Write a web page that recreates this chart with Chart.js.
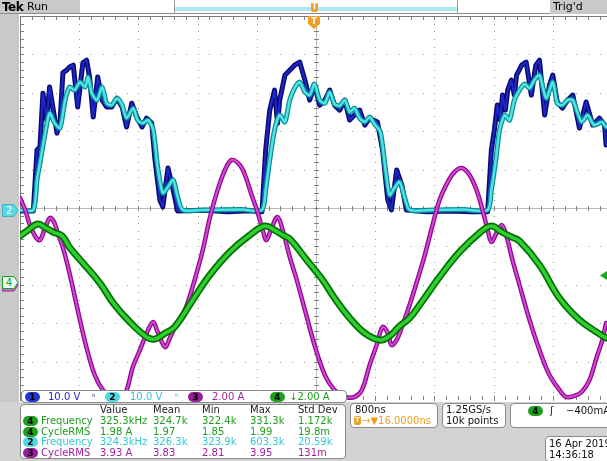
<!DOCTYPE html>
<html><head><meta charset="utf-8">
<script src="https://cdn.jsdelivr.net/npm/chart.js@4.4.1/dist/chart.umd.min.js"></script>
<style>
html,body{margin:0;padding:0;overflow:hidden;background:#fff;width:607px;height:461px;}
#wrap{position:absolute;left:0;top:0;width:607px;height:461px;overflow:hidden;font-family:"DejaVu Sans",sans-serif;}
#c{position:absolute;left:0;top:0;}
.a{position:absolute;white-space:nowrap;}
.t{position:absolute;white-space:nowrap;font-size:10px;line-height:10px;}
.box{position:absolute;background:#fff;border:1px solid #8a8a8a;border-radius:4px;box-sizing:border-box;}
.bd{position:absolute;width:15px;height:10px;border-radius:5px;font-size:9px;font-weight:bold;line-height:10px;text-align:center;color:#000;}
</style></head><body>
<div id="wrap">
<canvas id="c" width="616" height="461"></canvas>

<!-- top bar -->
<div class="a" style="left:0;top:0;width:80px;height:14px;background:#c9c9c9;"></div>
<div class="a" style="left:2px;top:0px;font-size:12px;line-height:14px;font-weight:bold;letter-spacing:-0.5px;">Tek</div>
<div class="a" style="left:27px;top:0px;font-size:11px;line-height:14px;">Run</div>
<div class="a" style="left:0;top:13px;width:607px;height:1px;background:#8c8c8c;"></div>
<div class="a" style="left:174px;top:0;width:1px;height:14px;background:#9a9a9a;"></div>
<div class="a" style="left:457px;top:0;width:1px;height:14px;background:#9a9a9a;"></div>
<div class="a" style="left:175px;top:7px;width:282px;height:4px;background:rgb(172,232,238);"></div>
<div class="a" style="left:550px;top:0;width:57px;height:14px;background:#c9c9c9;"></div>
<div class="a" style="left:553px;top:0px;font-size:11px;line-height:14px;">Trig'd</div>
<div class="a" style="left:311px;top:2px;width:7px;height:10px;background:rgb(240,160,40);border-radius:2px;color:#fff;font-size:8px;line-height:10px;text-align:center;font-weight:bold;">T</div>
<svg class="a" style="left:308px;top:16px;" width="12" height="13"><polygon points="0,0 12,0 12,8 6,13 0,8" fill="rgb(240,160,40)"/><text x="6" y="8" font-size="8" font-weight="bold" fill="#fff" text-anchor="middle" font-family="DejaVu Sans">T</text></svg>

<!-- left strip -->
<div class="a" style="left:0;top:14px;width:19px;height:447px;background:#c9c9c9;"></div>
<svg class="a" style="left:2px;top:279px;" width="17" height="13"><polygon points="0,0 12,0 16,6 12,12 0,12" fill="rgb(200,120,200)" stroke="rgb(150,30,150)"/></svg>
<svg class="a" style="left:2px;top:276px;" width="17" height="13"><polygon points="0.5,0.5 12,0.5 16,6.5 12,12.5 0.5,12.5" fill="rgb(232,250,232)" stroke="rgb(30,160,30)"/><text x="7" y="10" font-size="10" fill="rgb(30,160,30)" text-anchor="middle" font-family="DejaVu Sans">4</text></svg>
<svg class="a" style="left:2px;top:204px;" width="17" height="13"><polygon points="0.5,0.5 12,0.5 16,6.5 12,12.5 0.5,12.5" fill="rgb(90,215,228)" stroke="rgb(60,180,200)"/><text x="7" y="10" font-size="10" fill="#fff" text-anchor="middle" font-family="DejaVu Sans">2</text></svg>
<svg class="a" style="left:600px;top:271px;" width="7" height="9"><polygon points="7,0 7,9 0,4.5" fill="rgb(30,170,30)"/></svg>

<!-- bottom grey -->
<div class="a" style="left:0;top:402px;width:607px;height:59px;background:#d3d3d3;"></div>

<!-- channel bar -->
<div class="box" style="left:21px;top:390px;width:326px;height:13px;"></div>
<div class="bd" style="left:25px;top:392px;background:rgb(35,55,210);">1</div>
<div class="t" style="left:48px;top:392px;color:rgb(40,40,190);">10.0 V</div>
<div class="t" style="left:92px;top:392px;color:rgb(80,80,200);font-size:7px;">ᴺ</div>
<div class="bd" style="left:105px;top:392px;background:rgb(80,215,228);">2</div>
<div class="t" style="left:130px;top:392px;color:rgb(50,200,215);">10.0 V</div>
<div class="t" style="left:175px;top:392px;color:rgb(50,190,210);font-size:7px;">ᴺ</div>
<div class="bd" style="left:188px;top:392px;background:rgb(150,30,150);">3</div>
<div class="t" style="left:212px;top:392px;color:rgb(160,30,160);">2.00 A</div>
<div class="bd" style="left:270px;top:392px;background:rgb(30,160,30);">4</div>
<div class="t" style="left:289px;top:392px;color:rgb(30,160,30);">↓2.00 A</div>

<!-- measurement table -->
<div class="box" style="left:20px;top:404px;width:326px;height:55px;"></div>
<div class="t" style="left:100px;top:405px;color:#222;">Value</div>
<div class="t" style="left:153px;top:405px;color:#222;">Mean</div>
<div class="t" style="left:202px;top:405px;color:#222;">Min</div>
<div class="t" style="left:250px;top:405px;color:#222;">Max</div>
<div class="t" style="left:298px;top:405px;color:#222;">Std Dev</div>

<div class="bd" style="left:23px;top:416px;background:rgb(30,160,30);">4</div>
<div class="t" style="left:41px;top:416px;color:rgb(30,160,30);">Frequency</div>
<div class="t" style="left:100px;top:416px;color:rgb(30,160,30);">325.3kHz</div>
<div class="t" style="left:153px;top:416px;color:rgb(30,160,30);">324.7k</div>
<div class="t" style="left:202px;top:416px;color:rgb(30,160,30);">322.4k</div>
<div class="t" style="left:250px;top:416px;color:rgb(30,160,30);">331.3k</div>
<div class="t" style="left:298px;top:416px;color:rgb(30,160,30);">1.172k</div>

<div class="bd" style="left:23px;top:427px;background:rgb(30,160,30);">4</div>
<div class="t" style="left:41px;top:427px;color:rgb(30,160,30);">CycleRMS</div>
<div class="t" style="left:100px;top:427px;color:rgb(30,160,30);">1.98 A</div>
<div class="t" style="left:153px;top:427px;color:rgb(30,160,30);">1.97</div>
<div class="t" style="left:202px;top:427px;color:rgb(30,160,30);">1.85</div>
<div class="t" style="left:250px;top:427px;color:rgb(30,160,30);">1.99</div>
<div class="t" style="left:298px;top:427px;color:rgb(30,160,30);">19.8m</div>

<div class="bd" style="left:23px;top:437px;background:rgb(80,215,228);">2</div>
<div class="t" style="left:41px;top:437px;color:rgb(50,200,215);">Frequency</div>
<div class="t" style="left:100px;top:437px;color:rgb(50,200,215);">324.3kHz</div>
<div class="t" style="left:153px;top:437px;color:rgb(50,200,215);">326.3k</div>
<div class="t" style="left:202px;top:437px;color:rgb(50,200,215);">323.9k</div>
<div class="t" style="left:250px;top:437px;color:rgb(50,200,215);">603.3k</div>
<div class="t" style="left:298px;top:437px;color:rgb(50,200,215);">20.59k</div>

<div class="bd" style="left:23px;top:448px;background:rgb(150,30,150);">3</div>
<div class="t" style="left:41px;top:448px;color:rgb(160,30,160);">CycleRMS</div>
<div class="t" style="left:100px;top:448px;color:rgb(160,30,160);">3.93 A</div>
<div class="t" style="left:153px;top:448px;color:rgb(160,30,160);">3.83</div>
<div class="t" style="left:202px;top:448px;color:rgb(160,30,160);">2.81</div>
<div class="t" style="left:250px;top:448px;color:rgb(160,30,160);">3.95</div>
<div class="t" style="left:298px;top:448px;color:rgb(160,30,160);">131m</div>

<!-- right boxes -->
<div class="box" style="left:350px;top:403px;width:88px;height:25px;"></div>
<div class="t" style="left:355px;top:405px;color:#111;">800ns</div>
<div class="a" style="left:354px;top:416px;width:7px;height:9px;background:rgb(240,160,40);border-radius:2px;color:#fff;font-size:7px;line-height:9px;text-align:center;font-weight:bold;">T</div>
<div class="t" style="left:362px;top:416px;color:rgb(240,155,30);">→▼16.0000ns</div>

<div class="box" style="left:442px;top:403px;width:64px;height:25px;"></div>
<div class="t" style="left:446px;top:405px;color:#111;">1.25GS/s</div>
<div class="t" style="left:446px;top:416px;color:#111;">10k points</div>

<div class="box" style="left:510px;top:403px;width:104px;height:25px;"></div>
<div class="bd" style="left:528px;top:406px;background:rgb(30,160,30);">4</div>
<div class="t" style="left:550px;top:406px;color:#111;">ʃ</div>
<div class="t" style="left:566px;top:406px;color:#111;">−400mA</div>

<div class="box" style="left:545px;top:436px;width:69px;height:26px;"></div>
<div class="t" style="left:549px;top:439px;color:#111;">16 Apr 2019</div>
<div class="t" style="left:549px;top:450px;color:#111;">14:36:18</div>
</div>

<script>
// ---- Data (time in microseconds) ----
// Channel 1 (10 V/div)
const ch1Time = [-4.00,-3.82,-3.77,-3.73,-3.69,-3.64,-3.60,-3.55,-3.50,-3.46,-3.42,-3.37,-3.33,-3.28,-3.22,-3.15,-3.10,-3.06,-3.01,-2.95,-2.89,-2.83,-2.76,-2.69,-2.62,-2.56,-2.49,-2.42,-2.35,-2.29,-2.22,-2.18,-2.11,-2.07,-2.00,-1.93,-1.87,
  -1.50,-1.20,-0.90,
  -0.73,-0.68,-0.625,-0.56,-0.52,-0.49,-0.42,-0.355,-0.29,-0.22,-0.15,-0.085,-0.02,0.05,0.12,0.185,0.25,0.32,0.39,0.455,0.52,0.59,0.66,0.725,0.83,0.90,0.97,1.02,1.09,1.16,1.22,
  1.50,1.80,2.10,
  2.32,2.37,2.41,2.45,2.49,2.52,2.56,2.59,2.64,2.68,2.71,2.78,2.84,2.91,2.97,3.02,3.09,3.155,3.20,3.26,3.33,3.40,3.47,3.56,3.65,3.74,3.83,3.90,3.92];
const ch1Volts = [-0.8,-0.8,15.1,15.9,29.9,22.9,31.5,25.5,19.5,22.1,35.2,35.9,36.7,37.2,26.3,37.8,38.5,34.1,23.7,34.1,28.1,26.3,26.3,28.6,26.3,21.1,27.3,23.7,21.1,23.4,22.1,13.3,2.1,0.3,10.4,4.7,-0.8,
  -0.6,-1.0,-0.7,
  -1.0,15.1,25.5,30.7,22.0,28.1,34.6,35.9,37.2,38.0,33.3,28.1,32.0,26.8,28.1,30.7,26.8,25.5,28.1,22.9,24.2,25.5,21.6,23.4,22.4,15.1,2.1,-0.5,9.9,6.0,-0.5,
  -1.0,-0.8,-1.0,
  -1.0,15.1,20.3,26.8,22.9,29.4,25.5,30.7,33.3,29.4,34.6,37.2,38.0,29.4,37.2,38.5,24.2,32.0,34.6,27.6,26.0,28.1,29.4,20.8,27.6,21.6,23.4,21.6,16.4];

// Channel 2 (10 V/div)
const ch2Time = [-4.00,-3.82,-3.77,-3.73,-3.66,-3.60,-3.53,-3.46,-3.39,-3.33,-3.26,-3.19,-3.12,-3.08,-3.03,-2.96,-2.89,-2.83,-2.76,-2.69,-2.62,-2.56,-2.47,-2.41,-2.34,-2.27,-2.20,-2.14,-2.07,-2.00,-1.93,-1.87,-1.80,
  -1.50,-1.00,
  -0.73,-0.68,-0.625,-0.56,-0.49,-0.42,-0.355,-0.29,-0.22,-0.15,-0.085,-0.02,0.05,0.12,0.185,0.25,0.32,0.39,0.455,0.52,0.59,0.66,0.725,0.79,0.87,0.94,0.995,1.06,1.13,1.20,1.265,
  1.60,2.00,
  2.32,2.37,2.43,2.48,2.55,2.615,2.68,2.75,2.82,2.885,2.95,3.02,3.11,3.20,3.26,3.33,3.40,3.47,3.53,3.59,3.67,3.76,3.86,3.92];
const ch2Volts = [-0.5,-0.5,7.3,11.7,19.5,24.7,22.1,20.8,28.1,31.5,30.7,32.8,31.5,34.1,29.9,28.1,31.5,27.3,26.8,28.6,26.8,23.4,26.0,22.9,22.1,22.9,20.3,10.7,3.9,5.5,7.3,2.9,-0.5,
  -0.5,-0.4,
  -0.5,4.7,12.5,20.3,24.2,22.4,28.1,31.2,32.8,30.2,29.4,32.3,28.1,27.3,30.2,27.1,26.6,28.1,25.0,26.0,23.4,22.4,23.7,21.9,19.8,9.9,3.4,5.2,6.8,2.6,-0.5,
  -0.5,-0.4,
  -0.5,4.7,12.5,20.3,24.2,22.9,28.1,30.7,32.3,31.2,33.3,34.6,28.6,32.8,27.3,26.8,28.1,28.1,25.0,22.4,24.2,21.6,22.4,21.1];

// Channel 3 (2 A/div)
const ch3Time = [-4.00,-3.93,-3.865,-3.78,-3.73,-3.66,-3.595,-3.54,-3.49,-3.41,-3.325,-3.22,-3.11,-2.99,-2.88,-2.785,-2.68,-2.58,-2.475,-2.38,-2.27,-2.20,-2.14,-2.04,-1.975,-1.91,-1.83,-1.745,-1.64,-1.53,-1.435,-1.33,-1.23,-1.14,-1.03,-0.96,-0.87,-0.79,-0.72,-0.67,-0.60,-0.52,-0.45,-0.355,-0.26,-0.15,-0.02,0.12,0.25,0.39,0.52,0.62,0.725,0.82,0.90,0.97,1.02,1.09,1.17,1.265,1.37,1.47,1.575,1.67,1.78,1.87,1.97,2.075,2.17,2.25,2.32,2.37,2.44,2.51,2.57,2.655,2.75,2.885,3.02,3.155,3.29,3.38,3.49,3.59,3.695,3.79,3.87,3.92];
const ch3Amps = [4.52,3.90,3.11,2.44,2.33,2.96,3.48,3.27,2.70,1.81,0.51,-1.31,-3.14,-4.70,-5.48,-5.79,-5.84,-5.69,-4.28,-3.40,-2.36,-1.94,-2.46,-3.24,-2.77,-2.25,-1.73,-1.05,0.25,1.81,3.48,4.93,5.98,6.50,6.24,5.72,4.68,3.79,2.85,2.33,2.96,3.53,2.85,1.45,0.25,-1.31,-3.14,-4.70,-5.48,-5.84,-5.84,-5.48,-4.18,-3.14,-2.20,-2.51,-3.14,-2.87,-2.09,-1.05,0.25,1.55,3.11,4.42,5.35,5.87,6.08,5.72,4.93,3.90,2.85,2.23,2.70,3.11,2.59,1.29,-0.01,-1.83,-3.40,-4.70,-5.48,-5.84,-5.79,-5.58,-4.96,-3.81,-2.87,-1.99];

// Channel 4 (2 A/div)
const ch4Time = [-4.00,-3.89,-3.76,-3.65,-3.555,-3.43,-3.325,-3.15,-2.92,-2.74,-2.515,-2.285,-2.18,-2.04,-1.91,-1.665,-1.435,-1.165,-0.895,-0.69,-0.56,-0.45,-0.355,-0.125,0.09,0.25,0.455,0.66,0.86,0.995,1.13,1.265,1.40,1.67,1.94,2.21,2.37,2.51,2.64,2.75,3.02,3.29,3.56,3.83,3.92];
const ch4Amps = [2.54,2.85,3.17,2.96,2.75,2.54,1.92,1.14,0.09,-0.95,-1.94,-2.73,-2.83,-2.52,-2.20,-0.79,0.51,1.71,2.59,3.06,2.85,2.59,2.39,1.29,0.25,-0.69,-1.73,-2.52,-2.88,-2.67,-2.15,-1.73,-1.05,0.41,1.71,2.70,3.06,2.75,2.49,2.28,1.03,-0.69,-1.83,-2.56,-2.77];

// Scope settings
const timeDivUs = 0.8, voltsPerDiv = 10, ampsPerDiv = 2;

function pts(t, v){ return t.map((x,i)=>({x:x, y:v[i]})); }

function trace(t, v, axis, color, width, tension, order){
  return {data:pts(t,v), yAxisID:axis, showLine:true, borderColor:color, borderWidth:width,
    tension:tension, pointRadius:0, order:order, borderJoinStyle:'round', borderCapStyle:'round', fill:false};
}

const graticule = {
  id:'graticule',
  beforeDatasetsDraw(chart){
    const ctx = chart.ctx, a = chart.chartArea, sx = chart.scales.x, sy = chart.scales.yV;
    const xs = [], ys = [];
    for(let i=0;i<=50;i++){ xs.push(Math.round(sx.getPixelForValue(-4 + i*timeDivUs/5))); }
    for(let j=0;j<=50;j++){ ys.push(Math.round(sy.getPixelForValue(50 - j*voltsPerDiv/5))); }
    ctx.save();
    ctx.fillStyle = 'rgb(150,150,150)';
    for(let i=5;i<50;i+=5){ if(i===25) continue; for(const y of ys) ctx.fillRect(xs[i], y, 1, 1); }
    for(let j=5;j<50;j+=5){ if(j===25) continue; for(const x of xs) ctx.fillRect(x, ys[j], 1, 1); }
    const cx = xs[25], cy = ys[25];
    ctx.fillStyle = 'rgb(185,185,185)';
    ctx.fillRect(a.left, cy, a.right-a.left, 1);
    ctx.fillRect(cx, a.top, 1, a.bottom-a.top);
    ctx.fillStyle = 'rgb(130,130,130)';
    for(const x of xs){ ctx.fillRect(x, cy-2, 1, 5); ctx.fillRect(x, a.top, 1, 4); ctx.fillRect(x, a.bottom-4, 1, 4); }
    for(const y of ys){ ctx.fillRect(cx-2, y, 5, 1); ctx.fillRect(a.left, y, 4, 1); }
    ctx.fillStyle = 'rgb(120,120,120)';
    ctx.fillRect(a.left, a.top, a.right-a.left, 1);
    ctx.fillRect(a.left, a.top, 1, a.bottom-a.top);
    ctx.restore();
  }
};

new Chart(document.getElementById('c'), {
  type:'scatter',
  data:{datasets:[
    trace(ch4Time, ch4Amps, 'yA', 'rgb(50,205,50)', 3.5, 0.4, 0),
    trace(ch4Time, ch4Amps, 'yA', 'rgb(0,115,0)', 7, 0.4, 1),
    trace(ch3Time, ch3Amps, 'yA', 'rgb(215,70,215)', 2, 0.35, 2),
    trace(ch3Time, ch3Amps, 'yA', 'rgb(140,10,140)', 4.5, 0.35, 3),
    trace(ch2Time, ch2Volts, 'yV', 'rgb(80,228,228)', 2.5, 0.25, 4),
    trace(ch2Time, ch2Volts, 'yV', 'rgb(10,140,150)', 5, 0.25, 5),
    trace(ch1Time, ch1Volts, 'yV', 'rgb(30,40,200)', 2, 0, 6),
    trace(ch1Time, ch1Volts, 'yV', 'rgb(10,10,115)', 5, 0, 7)
  ]},
  options:{
    responsive:false, animation:false, devicePixelRatio:1,
    layout:{padding:{left:20, top:16, right:4, bottom:61}},
    plugins:{legend:{display:false}, tooltip:{enabled:false}},
    scales:{
      x:{type:'linear', display:false, min:-4, max:4},
      yV:{type:'linear', display:false, min:-5*voltsPerDiv, max:5*voltsPerDiv},
      yA:{type:'linear', display:false, min:-3*ampsPerDiv, max:7*ampsPerDiv}
    }
  },
  plugins:[graticule]
});
</script>
</body></html>
